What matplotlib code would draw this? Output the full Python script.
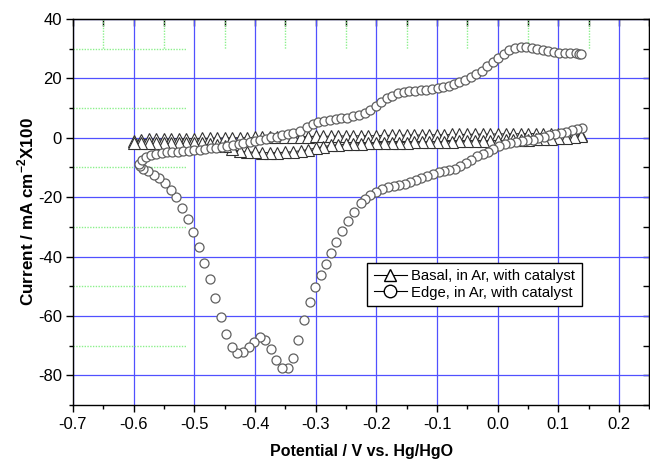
import numpy as np
import matplotlib
matplotlib.use("Agg")
import matplotlib.pyplot as plt
from matplotlib.lines import Line2D
from matplotlib.ticker import MultipleLocator, FormatStrFormatter

plt.rcParams['font.family'] = ['Liberation Sans', 'DejaVu Sans']
plt.rcParams['axes.unicode_minus'] = False
plt.rcParams['mathtext.fontset'] = 'custom'
plt.rcParams['mathtext.rm'] = 'Liberation Sans'
plt.rcParams['mathtext.bf'] = 'Liberation Sans:bold'

# Basal plane electrode, shared potential grid (V), forward and reverse sweeps
basal_v = [-0.600, -0.588, -0.575, -0.563, -0.550, -0.538, -0.525, -0.513, -0.500, -0.488,
           -0.475, -0.463, -0.450, -0.438, -0.425, -0.413, -0.400, -0.388, -0.375, -0.363,
           -0.350, -0.338, -0.325, -0.313, -0.300, -0.288, -0.275, -0.263, -0.250, -0.238,
           -0.225, -0.213, -0.200, -0.188, -0.175, -0.163, -0.150, -0.138, -0.125, -0.113,
           -0.100, -0.088, -0.075, -0.063, -0.050, -0.038, -0.025, -0.013, 0.000, 0.013,
           0.025, 0.038, 0.050, 0.063, 0.075, 0.088, 0.100, 0.113, 0.125, 0.138]
basal_fwd_i = [-1.0, -0.6, -0.5, -0.5, -0.4, -0.4, -0.3, -0.3, -0.3, -0.2,
               -0.2, -0.1, -0.1, 0.0, 0.0, 0.0, 0.1, 0.1, 0.2, 0.2,
               0.3, 0.3, 0.4, 0.4, 0.5, 0.5, 0.5, 0.6, 0.6, 0.6,
               0.7, 0.7, 0.7, 0.8, 0.8, 0.8, 0.9, 0.9, 0.9, 1.0,
               1.0, 1.0, 1.1, 1.1, 1.1, 1.2, 1.2, 1.2, 1.3, 1.3,
               1.3, 1.4, 1.4, 1.4, 1.4, 1.4, 1.4, 1.3, 1.2, 1.0]
basal_rev_i = [-1.8, -1.8, -1.8, -1.8, -1.8, -1.8, -1.8, -1.8, -1.8, -1.9,
               -2.1, -2.4, -2.9, -3.9, -4.5, -4.8, -4.9, -5.0, -5.0, -5.0,
               -4.9, -4.7, -4.4, -4.0, -3.5, -3.0, -2.6, -2.4, -2.2, -2.1,
               -2.0, -1.9, -1.8, -1.7, -1.7, -1.6, -1.6, -1.5, -1.5, -1.4,
               -1.4, -1.3, -1.3, -1.2, -1.2, -1.1, -1.1, -1.0, -1.0, -0.9,
               -0.8, -0.7, -0.6, -0.5, -0.4, -0.3, -0.2, 0.0, 0.2, 0.5]

# Edge plane electrode, cathodic sweep (0.14 V -> -0.6 V)
edge_cath_v = [0.139, 0.131, 0.122, 0.112, 0.104, 0.094, 0.084, 0.076, 0.067, 0.058,
               0.049, 0.040, 0.030, 0.021, 0.012, 0.002, -0.007, -0.016, -0.025, -0.034,
               -0.044, -0.053, -0.062, -0.071, -0.080, -0.088, -0.097, -0.107, -0.117, -0.126,
               -0.135, -0.144, -0.153, -0.162, -0.171, -0.181, -0.190, -0.200, -0.210, -0.218,
               -0.226, -0.237, -0.246, -0.256, -0.266, -0.275, -0.283, -0.292, -0.301, -0.310,
               -0.319, -0.329, -0.337, -0.346, -0.356, -0.365, -0.374, -0.383, -0.392, -0.401,
               -0.410, -0.419, -0.429, -0.438, -0.447, -0.456, -0.466, -0.475, -0.484, -0.493,
               -0.502, -0.510, -0.520, -0.530, -0.539, -0.548, -0.558, -0.567, -0.576, -0.585,
               -0.590, -0.592]
edge_cath_i = [3.2, 2.9, 2.5, 2.1, 1.7, 1.2, 0.8, 0.4, -0.1, -0.7,
               -0.9, -1.2, -1.5, -1.8, -2.2, -2.9, -3.8, -4.7, -5.4, -6.3,
               -7.4, -8.5, -9.6, -10.5, -10.9, -11.2, -11.7, -12.3, -13.0, -13.7,
               -14.3, -15.0, -15.5, -15.8, -16.1, -16.6, -17.3, -18.3, -19.4, -20.6,
               -22.0, -25.1, -27.9, -31.3, -35.0, -38.8, -42.4, -46.2, -50.2, -55.4,
               -61.4, -68.1, -74.2, -77.6, -77.6, -75.0, -71.3, -68.2, -67.1, -68.7,
               -70.6, -72.2, -72.4, -70.5, -66.2, -60.4, -53.9, -47.7, -42.1, -36.9,
               -31.8, -27.4, -23.6, -20.1, -17.5, -15.2, -13.6, -12.4, -11.3, -10.5,
               -9.6, -8.7]

# Edge plane electrode, anodic sweep (-0.6 V -> 0.14 V)
edge_anod_v = [-0.587, -0.580, -0.572, -0.564, -0.554, -0.545, -0.536, -0.527, -0.518, -0.509,
               -0.500, -0.490, -0.482, -0.472, -0.464, -0.455, -0.446, -0.437, -0.427, -0.419,
               -0.409, -0.400, -0.391, -0.382, -0.373, -0.364, -0.355, -0.345, -0.337, -0.326,
               -0.315, -0.305, -0.296, -0.286, -0.277, -0.267, -0.258, -0.248, -0.239, -0.229,
               -0.219, -0.211, -0.201, -0.192, -0.183, -0.174, -0.165, -0.155, -0.146, -0.136,
               -0.126, -0.118, -0.108, -0.099, -0.090, -0.081, -0.072, -0.063, -0.054, -0.044,
               -0.036, -0.026, -0.017, -0.008, 0.001, 0.010, 0.019, 0.029, 0.038, 0.047,
               0.056, 0.065, 0.074, 0.083, 0.093, 0.101, 0.111, 0.120, 0.129, 0.134, 0.137]
edge_anod_i = [-7.4, -6.6, -5.9, -5.5, -5.1, -4.9, -4.8, -4.7, -4.6, -4.4,
               -4.1, -4.0, -3.8, -3.6, -3.4, -3.1, -2.9, -2.6, -2.2, -1.9,
               -1.5, -1.1, -0.8, -0.3, 0.1, 0.4, 0.8, 1.1, 1.5, 2.3,
               3.6, 4.5, 5.2, 5.7, 6.1, 6.3, 6.5, 6.8, 7.2, 7.7,
               8.5, 9.4, 10.8, 12.2, 13.3, 14.2, 15.0, 15.5, 15.8, 15.9,
               16.0, 16.1, 16.4, 16.7, 17.0, 17.5, 18.2, 18.8, 19.5, 20.4,
               21.4, 22.6, 24.0, 25.4, 26.9, 28.2, 29.4, 30.1, 30.5, 30.5,
               30.1, 29.8, 29.4, 29.1, 28.8, 28.6, 28.5, 28.4, 28.4, 28.3, 28.2]

labels = ['Basal, in Ar, with catalyst', 'Edge, in Ar, with catalyst']

fig = plt.figure(figsize=(6.5, 4.62), dpi=100)
ax = fig.add_axes([0.1123, 0.1234, 0.8867, 0.8355])

ax.set_xlim(-0.7, 0.25)
ax.set_ylim(-90, 40)

# leftover partial minor grid (light green)
green = '#8cf08c'
for xv in [-0.65, -0.55, -0.45, -0.35, -0.25, -0.15, -0.05, 0.05, 0.15]:
    ax.plot([xv, xv], [40, 30], color=green, lw=1.0, ls=(0, (1, 1)), zorder=1)
for yv in [30, 10, -10, -30, -50, -70]:
    ax.plot([-0.7, -0.513], [yv, yv], color=green, lw=1.0, ls=(0, (1, 1)), zorder=1)

ax.grid(True, which='major', color='#5050ff', lw=0.9, zorder=0)
ax.set_axisbelow(True)

bx = basal_v + basal_v[::-1]
by = basal_fwd_i + basal_rev_i[::-1]
ax.plot(bx, by, color='#303030', lw=0.8, marker='^', ms=8, mfc='white',
        mec='#303030', mew=0.8, zorder=3)

ex = edge_cath_v + edge_anod_v
ey = edge_cath_i + edge_anod_i
ax.plot(ex, ey, ls='none', marker='o', ms=6.5, mfc='white', mec='#606060',
        mew=0.9, zorder=4)

ax.xaxis.set_major_locator(MultipleLocator(0.1))
ax.xaxis.set_minor_locator(MultipleLocator(0.05))
ax.yaxis.set_major_locator(MultipleLocator(20))
ax.yaxis.set_minor_locator(MultipleLocator(10))
ax.xaxis.set_major_formatter(FormatStrFormatter('%.1f'))
ax.yaxis.set_major_formatter(FormatStrFormatter('%d'))

ax.tick_params(axis='both', which='both', direction='out', labelsize=12, width=1)
ax.tick_params(axis='both', which='major', length=5)
ax.tick_params(axis='both', which='minor', length=3)
ax.tick_params(axis='x', which='major', pad=4)
ax.tick_params(axis='y', which='major', pad=3)
for spine in ax.spines.values():
    spine.set_linewidth(1.0)

# inward ticks on the top and right spines
secx = ax.secondary_xaxis('top')
secx.xaxis.set_major_locator(MultipleLocator(0.05))
secx.tick_params(direction='in', length=5, width=1, labeltop=False)
secy = ax.secondary_yaxis('right')
secy.yaxis.set_major_locator(MultipleLocator(10))
secy.tick_params(direction='in', length=4, width=1, labelright=False)

ax.set_xlabel('Potential / V vs. Hg/HgO', fontsize=11.5, fontweight='bold', labelpad=8)
ax.set_ylabel(r'Current / mA cm$^{\mathbf{-2}}$X100', fontsize=12.3,
              fontweight='bold', labelpad=1)

handles = [
    Line2D([], [], color='black', lw=0.8, marker='^', ms=9, mfc='white', mec='black'),
    Line2D([], [], color='black', lw=0.8, marker='o', ms=9, mfc='white', mec='black'),
]
leg = ax.legend(handles, labels, loc='upper left', bbox_to_anchor=(0.565, 0.4314),
                bbox_transform=fig.transFigure, fontsize=10.7, frameon=True,
                fancybox=False, framealpha=1, edgecolor='black', borderaxespad=0,
                handlelength=2.2, handletextpad=0.3, borderpad=0.45, labelspacing=0.15)
leg.get_frame().set_linewidth(1.0)

fig.savefig('out.png', dpi=100)
